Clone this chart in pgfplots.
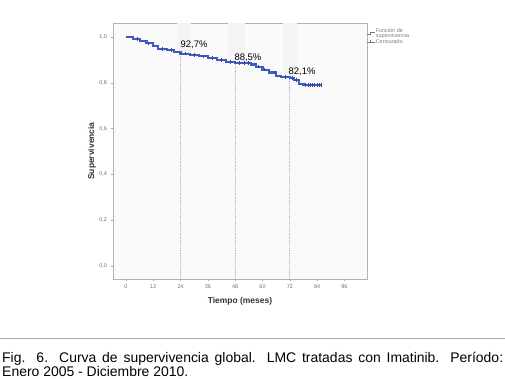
\documentclass[border=0pt]{standalone}
\usepackage{fontspec}
\setmainfont{Liberation Sans}
\usepackage{pgfplots}
\pgfplotsset{compat=1.18}
\definecolor{kmblue}{RGB}{65,90,195}
\definecolor{dotc}{RGB}{175,175,215}
\definecolor{tickc}{RGB}{110,110,110}
\definecolor{legc}{RGB}{125,125,125}
\begin{document}
\begin{tikzpicture}
\path[use as bounding box] (0,0) rectangle (505bp,379bp);
\begin{axis}[
  at={(113bp,100bp)}, anchor=south west,
  scale only axis, width=254bp, height=256bp,
  xmin=-5.7, xmax=105.9, ymin=-0.058, ymax=1.061,
  xtick={0,12,24,36,48,60,72,84,96},
  ytick={0,0.2,0.4,0.6,0.8,1.0},
  axis background/.style={fill=black!2},
  axis line style={gray!60},
  tick style={gray!70},
  tick align=outside,
  major tick length=2.5bp,
  xtick pos=bottom, ytick pos=left,
  /pgf/number format/assume math mode=true,
  ticklabel style={font=\fontsize{5.5}{6}\selectfont, text=tickc},
  yticklabel style={/pgf/number format/.cd, fixed, fixed zerofill, precision=1, use comma},
  xlabel={\textbf{Tiempo (meses)}},
  ylabel={\textbf{Supervivencia}},
  label style={font=\fontsize{8.5}{9}\selectfont, text=black!80},
  xlabel style={at={(axis description cs:0.5,-0.086)}, anchor=center},
  ylabel style={at={(axis description cs:-0.083,0.5)}, anchor=center},
  legend style={at={(axis description cs:1.0,0.985)}, anchor=north west, draw=none, fill=none,
    font=\fontsize{5.5}{5}\selectfont, text=legc, row sep=-1.5pt, inner sep=0pt,
    nodes={inner sep=1pt}},
  legend cell align=left,
  legend style={cells={align=left}},
]
% faint shaded bands behind the labels
\addplot[draw=none, fill=black!4.5, forget plot] coordinates {(22.4,0.93) (28.6,0.93) (28.6,1.061) (22.4,1.061)} -- cycle;
\addplot[draw=none, fill=black!4.5, forget plot] coordinates {(44.8,0.885) (52.3,0.885) (52.3,1.061) (44.8,1.061)} -- cycle;
\addplot[draw=none, fill=black!4.5, forget plot] coordinates {(69,0.821) (75.2,0.821) (75.2,1.061) (69,1.061)} -- cycle;
% dotted reference lines
\addplot[dotc, densely dotted, line width=0.9bp, forget plot] coordinates {(24,-0.058) (24,0.927)};
\addplot[dotc, densely dotted, line width=0.9bp, forget plot] coordinates {(48,-0.058) (48,0.885)};
\addplot[dotc, densely dotted, line width=0.9bp, forget plot] coordinates {(72,-0.058) (72,0.821)};
% survival curve
\addplot[kmblue, line width=2.2bp, const plot, mark=none,
  legend image code/.code={\draw[legc, line width=0.5pt] (0cm,-0.04cm) -- (0.1cm,-0.04cm) -- (0.1cm,0.04cm) -- (0.25cm,0.04cm);}] coordinates {
(0,1.0) (3,0.99) (6,0.982) (9,0.972) (12,0.962) (14,0.948) (18,0.942) (21,0.935)
(24,0.927) (28,0.921) (32,0.915) (36,0.908) (40,0.900) (44,0.891) (48,0.885)
(55,0.880) (57,0.870) (60,0.857) (63,0.845) (66,0.830) (68,0.824) (72,0.821)
(74,0.812) (76,0.795) (78,0.790) (86,0.790)};
\addlegendentry{Función de\\supervivencia}
% censored marks
\addplot[kmblue!80!black, only marks, mark=|, mark size=1.8bp, mark options={line width=0.8bp},
  legend image code/.code={\draw[legc, line width=0.5pt] (0cm,0cm) -- (0.25cm,0cm); \draw[legc, line width=0.5pt] (0.1cm,-0.05cm) -- (0.1cm,0.05cm);}] coordinates {
(5,0.99) (10,0.972) (16,0.948) (20,0.942) (26,0.927) (30,0.921) (34,0.915) (38,0.908)
(42,0.900) (46,0.891) (50,0.885) (52,0.885) (54,0.885) (58,0.870) (61,0.857) (65,0.845)
(70,0.824) (73,0.821) (75,0.812) (79,0.790) (80,0.790) (81,0.790) (82,0.790) (83,0.790)
(84,0.790) (85,0.790) (86,0.790)};
\addlegendentry{Censurado}
% percentage labels
\node[font=\fontsize{9.5}{10}\selectfont] at (axis cs:29.9,0.965) {92,7\%};
\node[font=\fontsize{9.5}{10}\selectfont] at (axis cs:53.6,0.911) {88,5\%};
\node[font=\fontsize{9.5}{10}\selectfont] at (axis cs:77.4,0.846) {82,1\%};
\end{axis}
\draw[gray!70, line width=0.8bp] (0,41bp) -- (505bp,41bp);
\node[anchor=north west, text width=501bp, align=justify, inner sep=0pt,
  font=\fontsize{14}{11.6}\selectfont] at (2bp,26.8bp)
  {\hyphenpenalty=10000 Fig. 6. Curva de supervivencia global. LMC tratadas con Imatinib. Período:\linebreak Enero 2005 - Diciembre 2010.};
\end{tikzpicture}
\end{document}
